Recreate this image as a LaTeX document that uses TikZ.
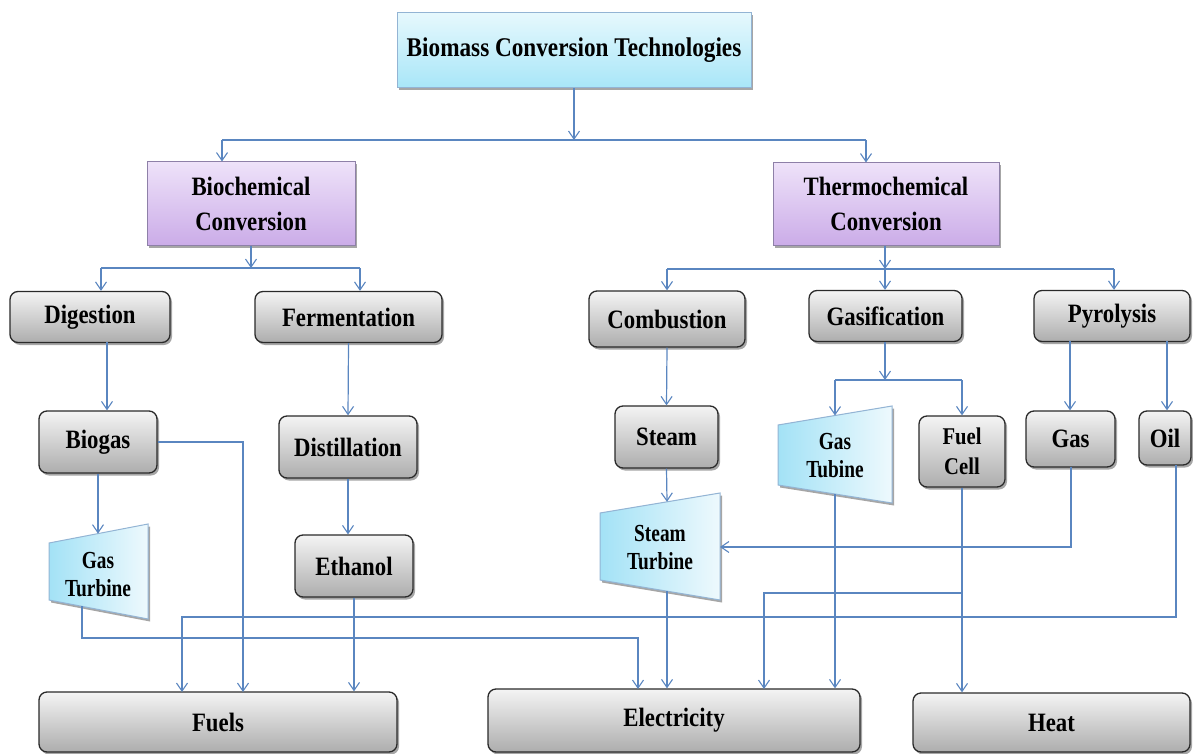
\documentclass[tikz,border=0pt]{standalone}
\usepackage{fontspec}
\setmainfont{Liberation Serif}[FakeStretch=0.86]
\newfontfamily\turbfont{Liberation Serif}[FakeStretch=0.79]
\usetikzlibrary{arrows.meta,shadows}
\definecolor{arrowblue}{HTML}{5A86C0}
\definecolor{gtop}{HTML}{F4F4F4}
\definecolor{gbot}{HTML}{ADADAD}
\definecolor{gborder}{HTML}{2A2A2A}
\definecolor{ctop}{HTML}{E6F8FD}
\definecolor{cbot}{HTML}{A8E6F8}
\definecolor{cborder}{HTML}{93B4D4}
\definecolor{ptop}{HTML}{EEE2F9}
\definecolor{pbot}{HTML}{CBACE8}
\definecolor{pborder}{HTML}{8E80A8}
\definecolor{tleft}{HTML}{A3E2F6}
\definecolor{tright}{HTML}{EEF9FD}
\begin{document}
\begin{tikzpicture}[x=1pt,y=-1pt,
  shad/.style={drop shadow={shadow xshift=2pt,shadow yshift=-2.5pt,opacity=0.35,fill=black}},
  graybox/.style={draw=gborder,line width=1.3pt,rounded corners=8pt,top color=gtop,bottom color=gbot,shad,
    font=\bfseries\fontsize{26.5}{33}\selectfont,align=center,inner sep=0pt,text=black},
  topbox/.style={draw=cborder,line width=1pt,top color=ctop,bottom color=cbot,shad,
    font=\bfseries\fontsize{27}{33}\selectfont,align=center,inner sep=0pt},
  purplebox/.style={draw=pborder,line width=1pt,top color=ptop,bottom color=pbot,shad,
    font=\bfseries\fontsize{26.5}{35}\selectfont,align=center,inner sep=0pt},
  turb/.style={draw=cborder,line width=1pt,left color=tleft,right color=tright},
  turbtext/.style={font=\turbfont\bfseries\fontsize{24.5}{28}\selectfont,align=center,inner sep=0pt},
  conn/.style={draw=arrowblue,line width=1.2pt},
  arr/.style={conn,-{Straight Barb[length=8pt,width=11pt,line width=1.1pt]}}
]
\useasboundingbox (0,0) rectangle (1193,754);

% ---- boxes ----
\node[topbox,minimum width=354pt,minimum height=75pt] (top) at (574,50.5) {Biomass Conversion Technologies};
\node[purplebox,minimum width=208pt,minimum height=83pt] (bio) at (251,203.5) {Biochemical\\Conversion};
\node[purplebox,minimum width=226pt,minimum height=82pt] (thermo) at (886,204) {Thermochemical\\Conversion};

\node[graybox,minimum width=160pt,minimum height=51pt] (dig) at (90,317) {Digestion};
\node[graybox,minimum width=187pt,minimum height=51pt] (ferm) at (348.5,317) {Fermentation};
\node[graybox,minimum width=156pt,minimum height=56pt] (comb) at (667,319) {Combustion};
\node[graybox,minimum width=153pt,minimum height=51pt] (gasif) at (885.5,316) {Gasification};
\node[graybox,minimum width=156pt,minimum height=51pt] (pyro) at (1112,316) {Pyrolysis};

\node[graybox,minimum width=118pt,minimum height=62pt] (biogas) at (98,442) {Biogas};
\node[graybox,minimum width=138pt,minimum height=62pt] (distil) at (348,447) {Distillation};
\node[graybox,minimum width=118pt,minimum height=62pt] (ethanol) at (354,566) {Ethanol};
\node[graybox,minimum width=103pt,minimum height=62pt] (steam) at (666.5,437) {Steam};
\node[graybox,minimum width=86pt,minimum height=71pt,font=\bfseries\fontsize{24}{30}\selectfont] (fuelcell) at (962,451.5) {Fuel\\Cell};
\node[graybox,minimum width=89pt,minimum height=56pt] (gas) at (1070.5,439) {Gas};
\node[graybox,minimum width=52pt,minimum height=54pt] (oil) at (1165,438) {Oil};

\node[graybox,minimum width=358pt,minimum height=60pt] (fuels) at (218,722) {Fuels};
\node[graybox,minimum width=372pt,minimum height=63pt] (elec) at (674,720.5) {Electricity};
\node[graybox,minimum width=277pt,minimum height=59pt] (heat) at (1051.5,722.5) {Heat};

% ---- turbines ----
\path[turb,shad] (49,543) -- (148,524) -- (148,619) -- (49,600) -- cycle;
\node[turbtext] (gtl) at (98,575) {Gas\\Turbine};
\path[turb,shad] (600,513) -- (720,493) -- (720,600) -- (600,580) -- cycle;
\node[turbtext] (st) at (660,548) {Steam\\Turbine};
\path[turb,shad] (778,425) -- (892,406) -- (892,503) -- (778,485) -- cycle;
\node[turbtext] (gtr) at (835,456) {Gas\\Tubine};

% turbine edge points
\coordinate (gtlTop) at (98,533.6);
\coordinate (gtlBot) at (82,606);
\coordinate (stTop) at (667,501.8);
\coordinate (stRight) at (720,547);
\coordinate (stBot) at (667,591);
\coordinate (gtrTop) at (835,415.5);
\coordinate (gtrBot) at (835,494);

% ---- connectors ----
\coordinate (a1) at (222,140);
\coordinate (a2) at (866,140);
\draw[arr] (top.south) -- (top.south |- a1);
\draw[conn] (a1) -- (a2);
\draw[arr] (a1) -- (a1 |- bio.north);
\draw[arr] (a2) -- (a2 |- thermo.north);

\coordinate (b1) at (101,268);
\coordinate (b2) at (360,268);
\draw[arr] (bio.south) -- (bio.south |- b1);
\draw[conn] (b1) -- (b2);
\draw[arr] (b1) -- (b1 |- dig.north);
\draw[arr] (b2) -- (b2 |- ferm.north);

\coordinate (c1) at (667,269);
\coordinate (c2) at (1114,269);
\coordinate (c3) at (885,269);
\draw[arr] (c3 |- thermo.south) -- (c3);
\draw[conn] (c1) -- (c2);
\draw[arr] (c1) -- (c1 |- comb.north);
\draw[arr] (c3) -- (c3 |- gasif.north);
\draw[arr] (c2) -- (c2 |- pyro.north);

\coordinate (d1) at (107,342);
\draw[arr] (d1) -- (d1 |- biogas.north);
\draw[arr] (ferm.south) -- (distil.north);
\draw[arr] (comb.south) -- (steam.north);

\coordinate (e1) at (835,380);
\coordinate (e2) at (962,380);
\coordinate (e3) at (885,380);
\draw[arr] (e3 |- gasif.south) -- (e3);
\draw[conn] (e1) -- (e2);
\draw[arr] (e1) -- (gtrTop);
\draw[arr] (e2) -- (e2 |- fuelcell.north);

\coordinate (f1) at (1070,341);
\coordinate (f2) at (1167,341);
\draw[arr] (f1) -- (f1 |- gas.north);
\draw[arr] (f2) -- (f2 |- oil.north);

\draw[arr] (biogas.south) -- (gtlTop);
\draw[arr] (distil.south) -- (distil.south |- ethanol.north);
\draw[arr] (steam.south) -- (stTop);

\coordinate (g1) at (1071,467);
\draw[arr] (g1) |- (stRight);

\coordinate (h1) at (243,692);
\draw[arr] (biogas.east) -| (h1);
\draw[arr] (ethanol.south) -- (ethanol.south |- fuels.north);

\coordinate (k1) at (82,638);
\coordinate (k2) at (638,689);
\draw[arr] (gtlBot) -- (k1) -| (k2);

\coordinate (m1) at (1176,465);
\coordinate (m2) at (1176,617);
\coordinate (m3) at (182,692);
\draw[arr] (m1) -- (m2) -| (m3);

\draw[arr] (stBot) -- (stBot |- elec.north);
\draw[arr] (gtrBot) -- (gtrBot |- elec.north);
\draw[arr] (fuelcell.south) -- (fuelcell.south |- heat.north);

\coordinate (n1) at (962,593);
\coordinate (n2) at (764,689);
\draw[arr] (n1) -| (n2);
\end{tikzpicture}
\end{document}
